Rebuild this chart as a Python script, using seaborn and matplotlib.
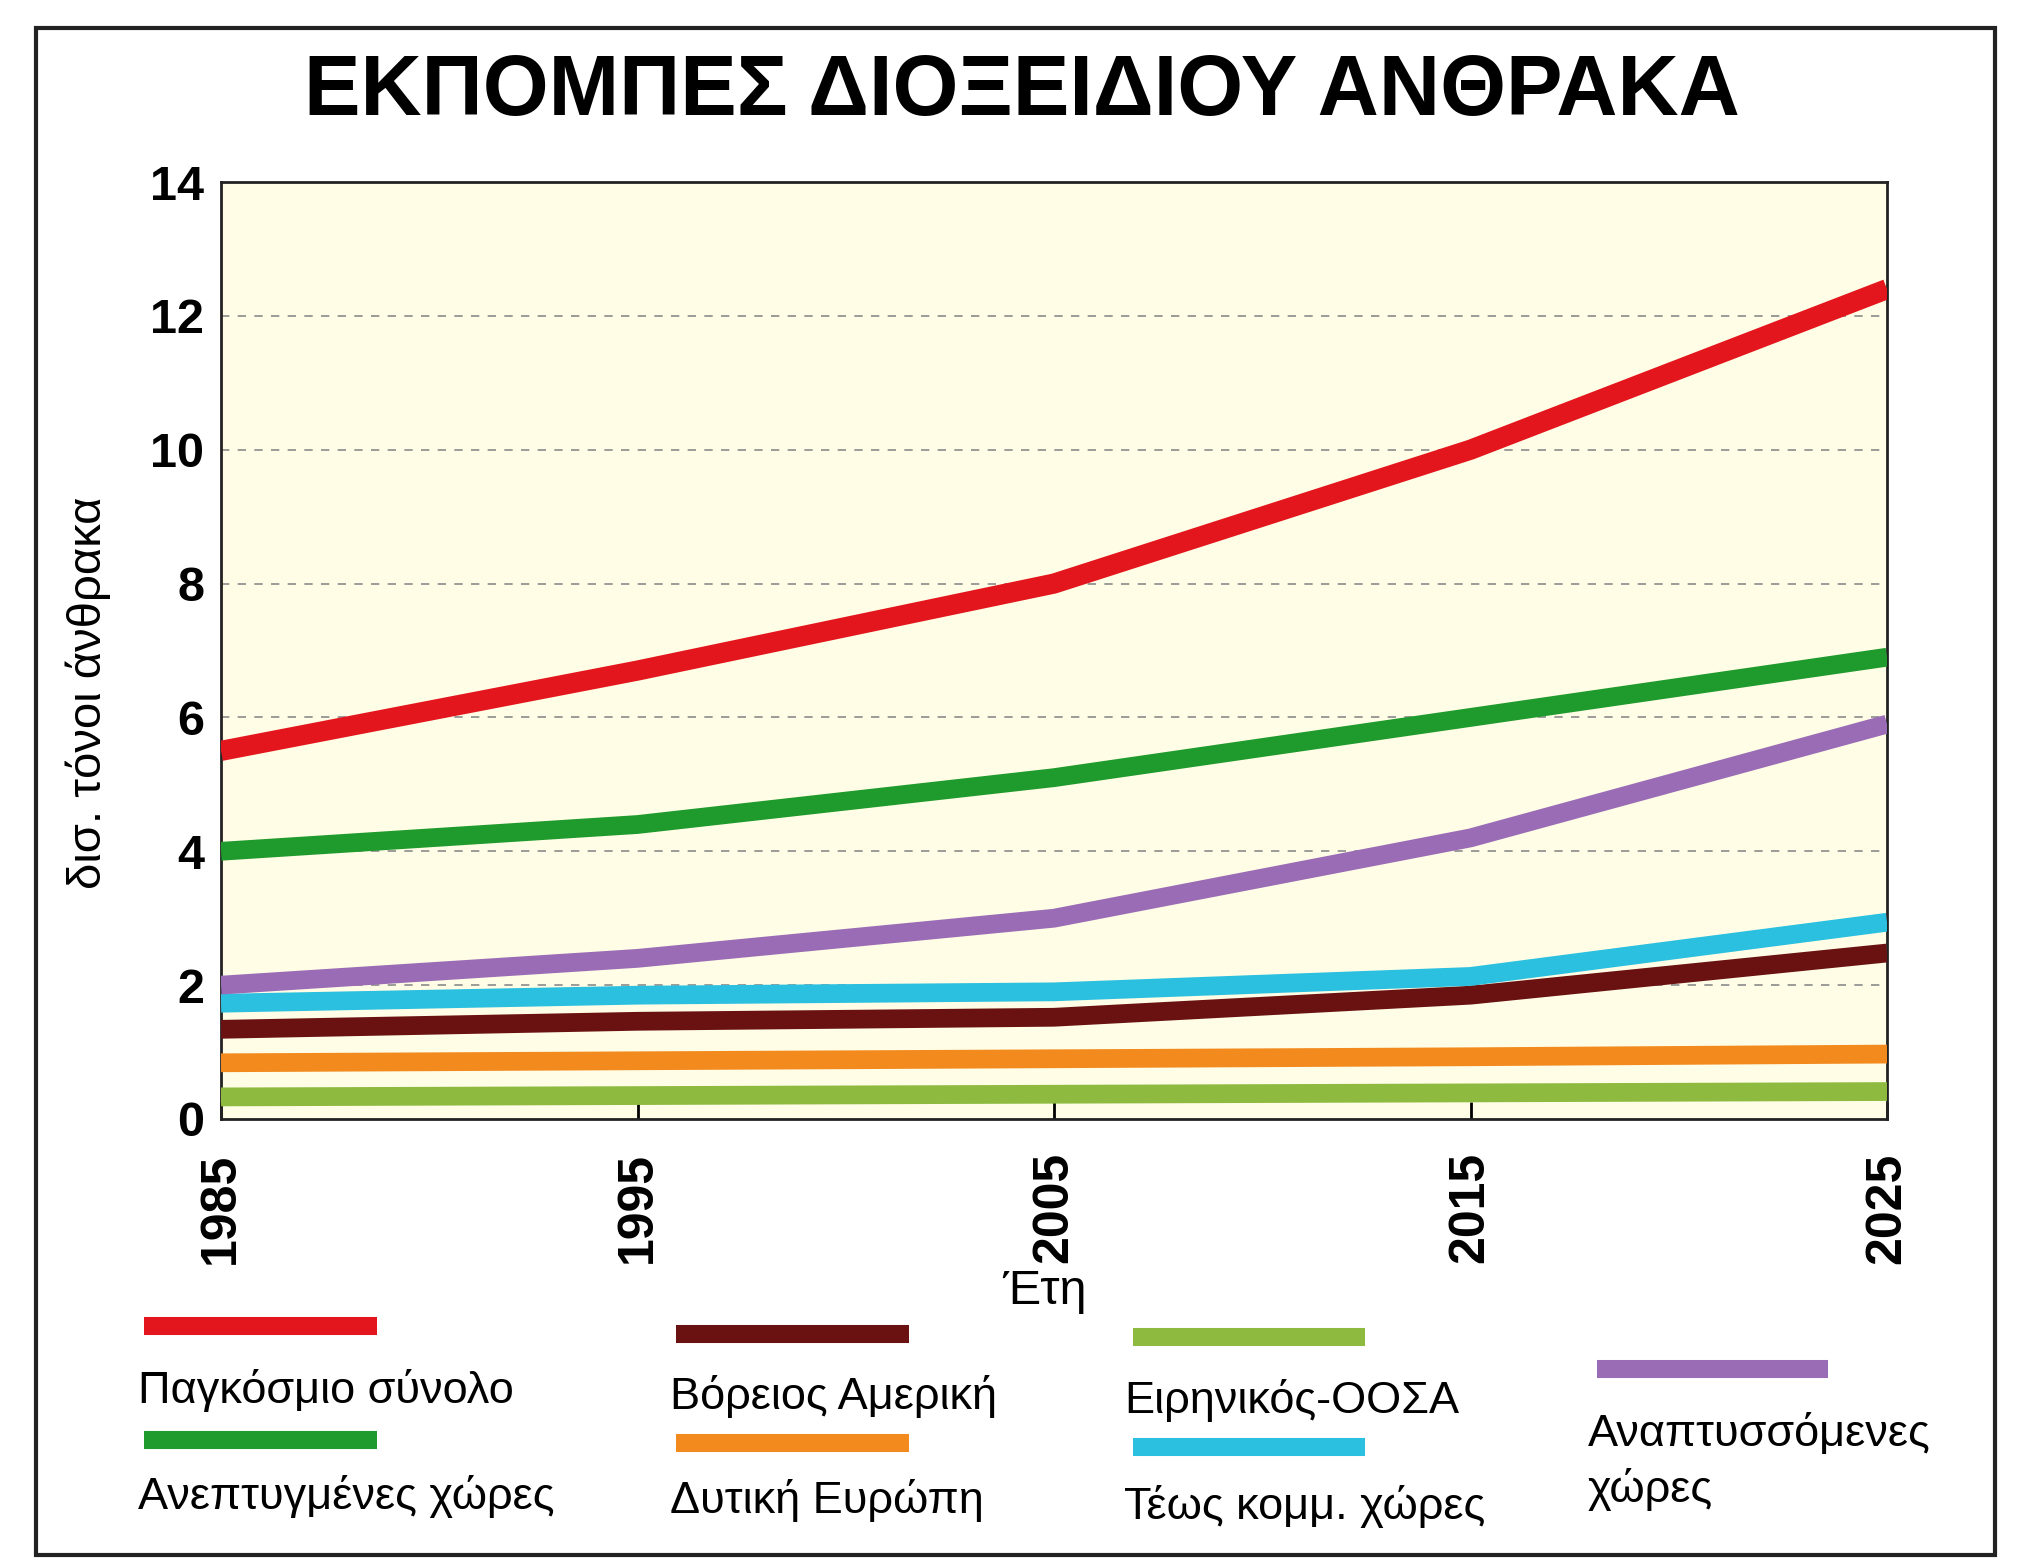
import matplotlib
matplotlib.use('Agg')
import matplotlib.pyplot as plt
import seaborn as sns
import pandas as pd
from matplotlib.lines import Line2D
from matplotlib.patches import Rectangle

# Daten
years = [1985, 1995, 2005, 2015, 2025]
world_total = [5.5, 6.7, 8.0, 10.0, 12.4]
developed = [4.0, 4.4, 5.1, 6.0, 6.9]
developing = [2.0, 2.4, 3.0, 4.2, 5.9]
ex_communist = [1.73, 1.85, 1.9, 2.13, 2.94]
north_america = [1.34, 1.46, 1.52, 1.85, 2.48]
western_europe = [0.84, 0.87, 0.9, 0.93, 0.97]
pacific_oecd = [0.33, 0.35, 0.37, 0.39, 0.41]

labels = {
    'world_total': 'Παγκόσμιο σύνολο',
    'developed': 'Ανεπτυγμένες χώρες',
    'north_america': 'Βόρειος Αμερική',
    'western_europe': 'Δυτική Ευρώπη',
    'pacific_oecd': 'Ειρηνικός-ΟΟΣΑ',
    'ex_communist': 'Τέως κομμ. χώρες',
    'developing': 'Αναπτυσσόμενες\nχώρες',
}
colors = {
    'world_total': '#e3161d',
    'developed': '#1f9a2c',
    'developing': '#9a6cb6',
    'ex_communist': '#2bbfe0',
    'north_america': '#6a1212',
    'western_europe': '#f28a1e',
    'pacific_oecd': '#8dba3f',
}

series = {
    'pacific_oecd': pacific_oecd,
    'western_europe': western_europe,
    'north_america': north_america,
    'ex_communist': ex_communist,
    'developing': developing,
    'developed': developed,
    'world_total': world_total,
}

sns.set_theme(style='white')
plt.rcParams['font.family'] = ['Liberation Sans', 'DejaVu Sans']
plt.rcParams['text.color'] = 'black'
plt.rcParams['axes.labelcolor'] = 'black'
plt.rcParams['xtick.color'] = 'black'
plt.rcParams['ytick.color'] = 'black'

W, H = 2019, 1567
fig = plt.figure(figsize=(W / 100, H / 100), dpi=100)
fig.patch.set_facecolor('white')

# Achsen-Position in Pixeln der Vorlage
left, right, top, bottom = 221, 1887, 182, 1119
ax = fig.add_axes([left / W, 1 - bottom / H, (right - left) / W, (bottom - top) / H])
ax.set_facecolor('#fffde6')

for key, vals in series.items():
    df = pd.DataFrame({'Jahr': years, 'Wert': vals})
    sns.lineplot(data=df, x='Jahr', y='Wert', ax=ax, color=colors[key],
                 linewidth=14.5 if key == 'world_total' else 13.5,
                 solid_capstyle='butt', zorder=3)

ax.set_xlim(1985, 2025)
ax.set_ylim(0, 14)
ax.set_xticks(years)
ax.set_yticks(range(0, 15, 2))
ax.set_xticklabels([str(y) for y in years], rotation=90, fontsize=36, fontweight='bold')
ax.set_yticklabels([str(v) for v in range(0, 15, 2)], fontsize=35, fontweight='bold')
ax.tick_params(axis='x', direction='in', length=12, width=2, pad=24, bottom=True)
ax.tick_params(axis='y', length=0, pad=12)

for v in range(2, 14, 2):
    ax.axhline(v, color='#8a8a8a', linestyle=(0, (5, 5)), linewidth=1.2, zorder=1)

for sp in ax.spines.values():
    sp.set_color('#222222')
    sp.set_linewidth(2)

ax.set_ylabel('δισ. τόνοι άνθρακα', fontsize=34)
ax.yaxis.set_label_coords(-0.066, 0.455)
ax.set_xlabel('Έτη', fontsize=35)
ax.xaxis.set_label_coords(0.494, -0.16)

fig.text(1022 / W, 1 - 93 / H, 'ΕΚΠΟΜΠΕΣ ΔΙΟΞΕΙΔΙΟΥ ΑΝΘΡΑΚΑ', ha='center', va='center',
         fontsize=61, fontweight='heavy')

# Legende: Farbbalken oben, Text darunter
legend_layout = [
    ('world_total', 144, 377, 1326, 138, 1391),
    ('developed', 144, 377, 1440, 138, 1497),
    ('north_america', 676, 909, 1334, 670, 1397),
    ('western_europe', 676, 909, 1443, 670, 1501),
    ('pacific_oecd', 1133, 1365, 1337, 1124, 1400),
    ('ex_communist', 1133, 1365, 1447, 1124, 1506),
    ('developing', 1597, 1828, 1369, 1588, 1462),
]
for key, x0, x1, ys, xt, yt in legend_layout:
    fig.add_artist(Line2D([x0 / W, x1 / W], [1 - ys / H, 1 - ys / H], color=colors[key],
                          linewidth=13, solid_capstyle='butt', transform=fig.transFigure))
    fig.text(xt / W, 1 - yt / H, labels[key], ha='left', va='center', fontsize=32.5,
             linespacing=1.4)

# Rahmen um die ganze Grafik
fig.add_artist(Rectangle((36 / W, 1 - 1555 / H), (1995 - 36) / W, (1555 - 28) / H,
                         fill=False, edgecolor='#222222', linewidth=3,
                         transform=fig.transFigure))

fig.savefig('out.png', dpi=100)
